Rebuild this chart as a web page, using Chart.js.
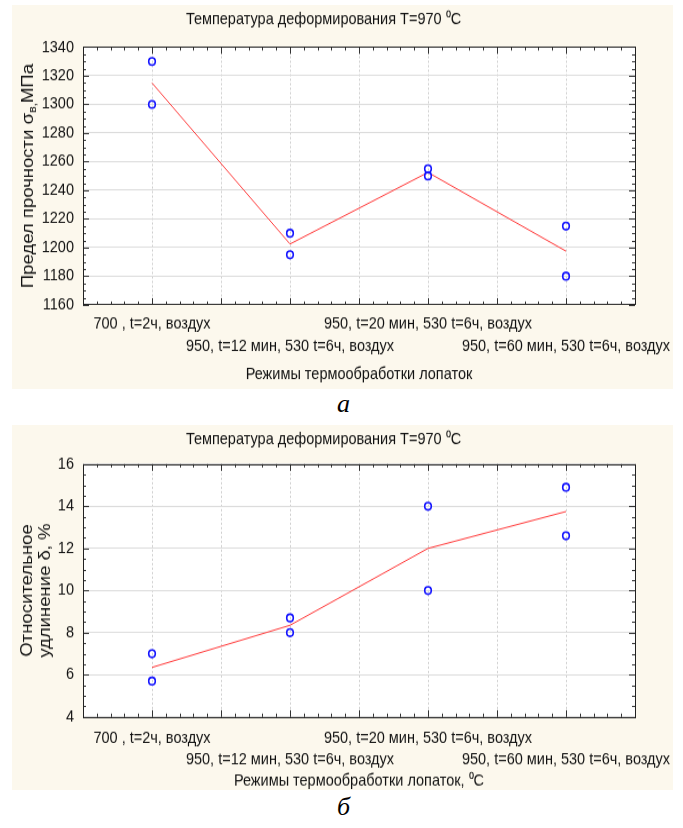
<!DOCTYPE html>
<html>
<head>
<meta charset="utf-8">
<script src="https://cdn.jsdelivr.net/npm/chart.js@4.4.0/dist/chart.umd.min.js"></script>
<style>
  body { margin: 0; background: #fff; width: 683px; height: 828px; position: relative; overflow: hidden; }
  .panel { position: absolute; left: 12px; width: 661px; background: #fcf8ed; overflow: hidden; }
  .stretch { position: absolute; left: 0; top: 0; width: 661px; transform-origin: 0 0; }
  .caption { position: absolute; left: 0; width: 683px; text-align: center; font-family: 'Liberation Serif', 'Times New Roman', serif; font-style: italic; font-size: 26px; line-height: 26px; color: #000; }
</style>
</head>
<body>
<div class="panel" id="panel-a"><div class="stretch"><canvas id="chart-a"></canvas></div></div>
<div class="caption" style="top:391px; left:2px;">а</div>
<div class="panel" id="panel-b"><div class="stretch"><canvas id="chart-b"></canvas></div></div>
<div class="caption" style="top:794px; left:2px;">б</div>

<script>
// treatment modes, placed on odd positions of a 0..8 axis
const categories = [
  '700 , t=2ч, воздух',
  '950, t=12 мин, 530 t=6ч, воздух',
  '950, t=20 мин, 530 t=6ч, воздух',
  '950, t=60 мин, 530 t=6ч, воздух'
];
const categoryPos = [1, 3, 5, 7];

// ultimate strength, MPa
const strengthHigh = [1330, 1210, 1255, 1215];
const strengthLow = [1300, 1195, 1250, 1180];
const strengthMean = [1315, 1202.5, 1252.5, 1197.5];
const strengthTicks = [1160, 1180, 1200, 1220, 1240, 1260, 1280, 1300, 1320, 1340];

// relative elongation, %
const elongHigh = [7.0, 8.7, 14.0, 14.9];
const elongLow = [5.7, 8.0, 10.0, 12.6];
const elongMean = [6.35, 8.35, 12.0, 13.75];
const elongTicks = [4, 6, 8, 10, 12, 14, 16];

const K = 1.12;          // panels are drawn a bit taller than the canvas
const FS = 14.5;
const YT_FS = 16.5;      // rotated axis titles
const FONT = "'Liberation Sans', Arial, sans-serif";
Chart.defaults.font.family = FONT;
Chart.defaults.font.size = FS;
Chart.defaults.color = '#111';

const toPoints = (vals) => categoryPos.map((x, i) => ({ x, y: vals[i] }));

// white plot area + box with inward major/minor ticks
const frameTicks = {
  id: 'frameTicks',
  beforeDraw(chart) {
    const { ctx, chartArea: a } = chart;
    ctx.save();
    ctx.fillStyle = '#fff';
    ctx.fillRect(a.left, a.top, a.width, a.height);
    ctx.restore();
  },
  afterDraw(chart, args, opts) {
    const { ctx, chartArea: a, scales: { x, y } } = chart;
    ctx.save();
    ctx.strokeStyle = '#333';
    ctx.lineWidth = 1;
    ctx.beginPath();
    const nx = Math.round((x.max - x.min) / opts.xMinor);
    for (let i = 0; i <= nx; i++) {
      const px = Math.round(x.getPixelForValue(x.min + i * opts.xMinor)) + 0.5;
      const len = i % opts.xPer === 0 ? 6 : 3;
      ctx.moveTo(px, a.bottom); ctx.lineTo(px, a.bottom - len);
      ctx.moveTo(px, a.top); ctx.lineTo(px, a.top + len);
    }
    const ny = Math.round((y.max - y.min) / opts.yMinor);
    for (let i = 0; i <= ny; i++) {
      const py = Math.round(y.getPixelForValue(y.min + i * opts.yMinor)) + 0.5;
      const len = i % opts.yPer === 0 ? 6 : 3;
      ctx.moveTo(a.left, py); ctx.lineTo(a.left + len, py);
      ctx.moveTo(a.right, py); ctx.lineTo(a.right - len, py);
    }
    ctx.stroke();
    ctx.strokeStyle = '#222';
    ctx.strokeRect(Math.round(a.left) + 0.5, Math.round(a.top) + 0.5,
      Math.round(a.width), Math.round(a.height));
    ctx.restore();
  }
};

// rotated y title, runs may be subscripted
const yTitle = {
  id: 'yTitle',
  afterDraw(chart, args, opts) {
    const { ctx, chartArea: a } = chart;
    const cy = (a.top + a.bottom) / 2;
    ctx.save();
    ctx.fillStyle = '#111';
    ctx.textBaseline = 'middle';
    opts.lines.forEach((line) => {
      const fontOf = (r) => (r.sub ? 11 : YT_FS) + 'px ' + FONT;
      let w = 0;
      line.runs.forEach((r) => { ctx.font = fontOf(r); w += ctx.measureText(r.text).width; });
      ctx.save();
      ctx.translate(line.x, cy);
      ctx.rotate(-Math.PI / 2);
      let tx = -w / 2;
      line.runs.forEach((r) => {
        ctx.font = fontOf(r);
        ctx.fillText(r.text, tx, r.sub ? 5 : 0);
        tx += ctx.measureText(r.text).width;
      });
      ctx.restore();
    });
    ctx.restore();
  }
};

function buildChart(c) {
  const panel = document.getElementById(c.panel);
  panel.style.top = c.top + 'px';
  panel.style.height = c.height + 'px';
  const inner = panel.querySelector('.stretch');
  const h = c.height / K;
  inner.style.height = h + 'px';
  inner.style.transform = 'scaleY(' + K + ')';
  const cy = (pageY) => (pageY - c.top) / K;
  const lh = FS * 1.2;
  const rowH = c.rowGap / K;

  const pointStyle = {
    showLine: false, pointStyle: 'circle', pointRadius: 3.3, pointBorderWidth: 1.6,
    pointBorderColor: '#1414ff', pointBackgroundColor: 'rgba(0,0,0,0)'
  };

  return new Chart(document.getElementById(c.canvas), {
    type: 'scatter',
    data: {
      datasets: [
        { data: toPoints(c.high), ...pointStyle },
        { data: toPoints(c.low), ...pointStyle },
        { data: toPoints(c.mean), showLine: true, borderColor: '#ff3a3a', borderWidth: 1, pointRadius: 0 }
      ]
    },
    options: {
      responsive: true,
      maintainAspectRatio: false,
      animation: false,
      layout: { padding: { left: 0, right: 38, top: 0, bottom: 0 } },
      plugins: {
        legend: { display: false },
        tooltip: { enabled: false },
        title: {
          display: true,
          text: c.title,
          color: '#111',
          font: { size: FS, weight: 'normal' },
          padding: { top: cy(c.titleY) - lh / 2, bottom: cy(c.plotTop) - cy(c.titleY) - lh / 2 }
        },
        frameTicks: { xMinor: 0.2, xPer: 5, yMinor: c.yMinor, yPer: 4 },
        yTitle: { lines: c.yLines }
      },
      scales: {
        x: {
          type: 'linear', min: 0, max: 8,
          grid: { color: '#cfcfcf', drawTicks: false },
          border: { display: false, dash: [2, 2] },
          ticks: {
            stepSize: 1, autoSkip: false, maxRotation: 0, minRotation: 0,
            padding: (c.row1 - c.plotBottom) / K - rowH / 2,
            font: { size: FS, lineHeight: rowH / FS },
            callback: (v) => {
              const i = categoryPos.indexOf(v);
              if (i < 0) return '';
              return i % 2 === 0 ? categories[i] : ['', categories[i]];
            }
          },
          title: {
            display: true, text: c.xTitle, color: '#111',
            font: { size: FS },
            padding: { top: 0, bottom: h - cy(c.xTitleY) - lh / 2 }
          },
          afterFit: (s) => { s.height = h - cy(c.plotBottom); }
        },
        y: {
          min: c.yTicks[0], max: c.yTicks[c.yTicks.length - 1],
          grid: { color: '#dcdcdc', drawTicks: false },
          border: { display: false },
          afterBuildTicks: (s) => { s.ticks = c.yTicks.map((v) => ({ value: v })); },
          ticks: { padding: 9, callback: (v) => String(v) },
          afterFit: (s) => { s.width = 71; }
        }
      }
    },
    plugins: [frameTicks, yTitle]
  });
}

buildChart({
  panel: 'panel-a', canvas: 'chart-a', top: 5, height: 384,
  titleY: 20, plotTop: 47, plotBottom: 304, row1: 323, rowGap: 22, xTitleY: 374,
  title: 'Температура деформирования T=970 ⁰C',
  xTitle: 'Режимы термообработки лопаток',
  high: strengthHigh, low: strengthLow, mean: strengthMean,
  yTicks: strengthTicks, yMinor: 5,
  yLines: [{ x: 16, runs: [{ text: 'Предел прочности σ' }, { text: 'в,', sub: true }, { text: 'МПа' }] }]
});

buildChart({
  panel: 'panel-b', canvas: 'chart-b', top: 425, height: 365,
  titleY: 440, plotTop: 464, plotBottom: 716, row1: 737, rowGap: 22, xTitleY: 780,
  title: 'Температура деформирования T=970 ⁰C',
  xTitle: 'Режимы термообработки лопаток, ⁰C',
  high: elongHigh, low: elongLow, mean: elongMean,
  yTicks: elongTicks, yMinor: 0.5,
  yLines: [
    { x: 15, runs: [{ text: 'Относительное' }] },
    { x: 33, runs: [{ text: 'удлинение δ, %' }] }
  ]
});
</script>
</body>
</html>
